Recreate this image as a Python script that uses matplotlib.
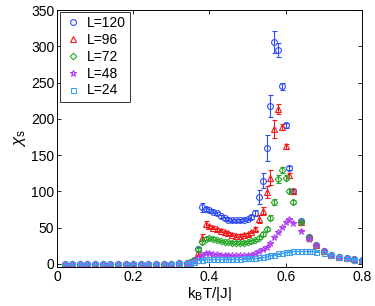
import matplotlib
matplotlib.use("Agg")
import matplotlib.pyplot as plt
from matplotlib.lines import Line2D

plt.rcParams['font.family'] = ['Liberation Sans', 'DejaVu Sans']
plt.rcParams['mathtext.fontset'] = 'custom'
plt.rcParams['mathtext.rm'] = 'Liberation Sans'
plt.rcParams['mathtext.it'] = 'Liberation Sans:italic'

# temperature grids
T_low = [0.02, 0.04, 0.06, 0.08, 0.10, 0.12, 0.14, 0.16, 0.18, 0.20,
         0.22, 0.24, 0.26, 0.28, 0.30, 0.32, 0.34]
T_mid = [0.35, 0.36, 0.37, 0.38, 0.39, 0.40, 0.41, 0.42, 0.43, 0.44,
         0.45, 0.46, 0.47, 0.48, 0.49, 0.50, 0.51, 0.52, 0.53, 0.54,
         0.55, 0.56, 0.57, 0.58, 0.59, 0.60, 0.61, 0.62]
T_high = [0.64, 0.66, 0.68, 0.70, 0.72, 0.74, 0.76, 0.78, 0.80]
T_mid24 = [0.35, 0.36, 0.37, 0.38, 0.39, 0.40, 0.41, 0.42, 0.43, 0.44,
           0.45, 0.46, 0.47, 0.48, 0.49, 0.50, 0.51, 0.52, 0.53, 0.54,
           0.55, 0.56, 0.57, 0.58, 0.59, 0.60, 0.61, 0.62, 0.63, 0.64,
           0.65, 0.66, 0.67, 0.68]
T_high24 = [0.70, 0.72, 0.74, 0.76, 0.78, 0.80]

chi_low = [0.3, 0.3, 0.3, 0.3, 0.3, 0.3, 0.3, 0.3, 0.3, 0.3,
           0.3, 0.3, 0.3, 0.3, 0.4, 0.7, 1.2]

chi120_mid = [1.5, 5, 20, 78, 76, 74, 72, 70, 66, 63, 61, 60, 60, 60, 61, 62,
              65, 70, 92, 115, 160, 218, 306, 295, 245, 191, 132, 101]
err120_mid = [0.3, 1, 4, 6, 3, 2, 2, 2, 2, 2, 2, 2, 2, 2, 2, 2,
              3, 4, 10, 10, 18, 15, 15, 10, 5, 4, 3, 3]
chi120_high = [59, 37, 26, 18, 13, 10, 8, 6.5, 5]

chi96_mid = [2, 5, 15, 36, 55, 52, 50, 48, 46, 44, 42, 40, 39, 39, 40, 41,
             44, 48, 62, 73, 99, 119, 186, 214, 189, 162, 122, 100]
err96_mid = [0.3, 1, 3, 5, 4, 2, 2, 2, 2, 2, 2, 2, 2, 2, 2, 2,
             2, 3, 6, 5, 8, 10, 12, 7, 4, 3, 3, 3]
chi96_high = [58, 37, 26, 18, 13, 10, 8, 6.5, 5]

chi72_mid = [2, 5, 20, 30, 35, 36, 35, 33, 31.5, 30.5, 30, 29.5, 29.5, 29.5,
             29.5, 30, 31, 33, 36, 41, 48, 64, 85, 117, 130, 119, 101, 85]
err72_mid = [0.3, 1, 2, 2, 2, 1.5, 1.5, 1.5, 1.5, 1.5, 1.5, 1.5, 1.5, 1.5,
             1.5, 1.5, 1.5, 2, 2, 3, 3, 4, 4, 5, 4, 3, 3, 3]
chi72_high = [58, 36, 26, 18, 13, 10, 8, 6.5, 5]

chi48_mid = [1.5, 4, 8, 13, 15, 15, 14, 13.5, 13, 12.5, 12, 12, 12, 12, 12,
             12.5, 13, 15, 18, 20, 24, 29, 37, 44, 51, 58, 62, 57]
chi48_high = [46, 35, 26, 18, 13, 10, 8, 6.5, 5]

chi24_mid = [1, 3, 5, 6, 6.5, 6.5, 6.5, 6.5, 6.5, 6.5, 6.5, 7, 7, 7, 7.5,
             7.5, 8, 8.5, 9, 10, 11, 12, 13, 14.5, 15.5, 16.5, 17, 17.5,
             18, 18, 18, 18, 17.5, 17]
chi24_high = [15, 12, 9.5, 7.5, 6, 5]

labels = ['L=120', 'L=96', 'L=72', 'L=48', 'L=24']
colors = ['#2f4cf5', '#f01c1c', '#2aa82a', '#b040f0', '#3fa0f0']
markers = ['o', '^', 'D', '*', 's']
msizes = [4.2, 4.2, 3.4, 4.8, 3.6]

series = [
    (T_low + T_mid + T_high, chi_low + chi120_mid + chi120_high,
     [0.2] * len(T_low) + err120_mid + [1] * len(T_high)),
    (T_low + T_mid + T_high, chi_low + chi96_mid + chi96_high,
     [0.2] * len(T_low) + err96_mid + [1] * len(T_high)),
    (T_low + T_mid + T_high, chi_low + chi72_mid + chi72_high,
     [0.2] * len(T_low) + err72_mid + [1] * len(T_high)),
    (T_low + T_mid + T_high, chi_low + chi48_mid + chi48_high,
     [0.2] * (len(T_low) + len(T_mid) + len(T_high))),
    (T_low + T_mid24 + T_high24, chi_low + chi24_mid + chi24_high,
     [0.2] * (len(T_low) + len(T_mid24) + len(T_high24))),
]

fig = plt.figure(figsize=(3.75, 3.06), dpi=100)
ax = fig.add_axes([0.152, 0.128, 0.813, 0.839])

handles = []
for (x, y, e), lab, c, m, ms in zip(series, labels, colors, markers, msizes):
    ax.errorbar(x, y, yerr=e, fmt='none', ecolor=c, elinewidth=0.8,
                capsize=1.8, capthick=0.8)
    h, = ax.plot(x, y, linestyle='none', marker=m, markersize=ms,
                 markerfacecolor='none', markeredgecolor=c,
                 markeredgewidth=0.8, label=lab)
    handles.append(h)

ax.set_xlim(0, 0.8)
ax.set_ylim(-4, 350)
ax.set_xticks([0, 0.2, 0.4, 0.6, 0.8])
ax.set_xticklabels(['0', '0.2', '0.4', '0.6', '0.8'])
ax.set_yticks([0, 50, 100, 150, 200, 250, 300, 350])
ax.tick_params(direction='in', top=True, right=True, length=3, width=0.6,
               labelsize=10, pad=2)
for sp in ax.spines.values():
    sp.set_linewidth(0.7)

ax.set_xlabel(r'k$_\mathregular{B}$T/|J|', fontsize=11, labelpad=1)
ax.set_ylabel(r'$\chi_\mathregular{s}$', fontsize=12, labelpad=2)

leg = ax.legend(handles=handles, loc='upper left', bbox_to_anchor=(0.01, 0.992),
                borderaxespad=0, fontsize=10, frameon=True, fancybox=False,
                handlelength=1.2, handletextpad=0.4, labelspacing=0.2,
                borderpad=0.3, numpoints=1)
leg.get_frame().set_edgecolor('black')
leg.get_frame().set_linewidth(0.7)

fig.savefig('out.png', dpi=100)
